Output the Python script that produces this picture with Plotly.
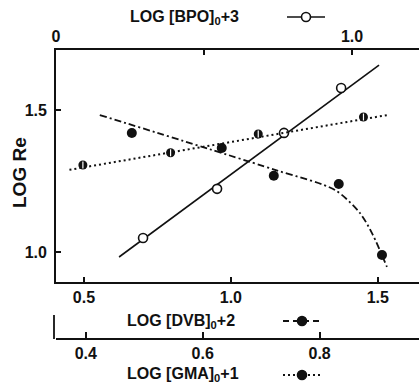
import plotly.graph_objects as go

# ---- data ----
# BPO series (top axis: LOG [BPO]0 + 3)
bpo_x = [0.294, 0.544, 0.770, 0.963]
bpo_y = [1.049, 1.222, 1.419, 1.577]
bpo_fit_x = [0.213, 1.091]
bpo_fit_y = [0.982, 1.658]

# DVB series (bottom axis: LOG [DVB]0 + 2)
dvb_x = [0.663, 0.969, 1.146, 1.367, 1.514]
dvb_y = [1.419, 1.366, 1.268, 1.239, 0.989]
dvb_curve_x = [0.554, 1.15, 1.354, 1.439, 1.483, 1.531]
dvb_curve_y = [1.482, 1.289, 1.218, 1.137, 1.060, 0.947]

# GMA series (lower axis: LOG [GMA]0 + 1)
gma_x = [0.395, 0.545, 0.695, 0.875]
gma_y = [1.306, 1.349, 1.415, 1.475]
gma_fit_x = [0.372, 0.916]
gma_fit_y = [1.289, 1.482]

y_ticks = [1.0, 1.5]
dvb_ticks = [0.5, 1.0, 1.5]
bpo_ticks = [0, 0.5, 1.0]
bpo_ticktext = ["0", "", "1.0"]
gma_ticks = [0.4, 0.6, 0.8]

FONT = "Liberation Sans"
BLACK = "#111111"
W, H = 419, 388
L, R, T, B = 56, 0, 50, 49

DASHDOT = "7px,3px,2px,3px"
DOT = "2px,3px"

fig = go.Figure()

# BPO
fig.add_trace(go.Scatter(x=bpo_fit_x, y=bpo_fit_y, xaxis="x2", yaxis="y", mode="lines",
                         line=dict(color=BLACK, width=1.6), showlegend=False))
fig.add_trace(go.Scatter(x=bpo_x, y=bpo_y, xaxis="x2", yaxis="y", mode="markers",
                         marker=dict(symbol="circle", size=9, color="white",
                                     line=dict(color=BLACK, width=1.6)), showlegend=False))
# DVB
fig.add_trace(go.Scatter(x=dvb_curve_x, y=dvb_curve_y, xaxis="x", yaxis="y", mode="lines",
                         line=dict(color=BLACK, width=1.8, dash=DASHDOT, shape="spline", smoothing=0.8),
                         showlegend=False))
fig.add_trace(go.Scatter(x=dvb_x, y=dvb_y, xaxis="x", yaxis="y", mode="markers",
                         marker=dict(symbol="circle", size=10, color=BLACK), showlegend=False))
# GMA
fig.add_trace(go.Scatter(x=gma_fit_x, y=gma_fit_y, xaxis="x3", yaxis="y", mode="lines",
                         line=dict(color=BLACK, width=2, dash=DOT), showlegend=False))
fig.add_trace(go.Scatter(x=gma_x, y=gma_y, xaxis="x3", yaxis="y", mode="markers",
                         marker=dict(symbol="circle", size=9, color=BLACK), showlegend=False))
fig.add_trace(go.Scatter(x=gma_x, y=gma_y, xaxis="x3", yaxis="y", mode="markers",
                         marker=dict(symbol="line-ns", size=5, color="white",
                                     line=dict(color="white", width=1.2)), showlegend=False))

pw = W - L - R
ph = H - T - B
def px(xp):
    return (xp - L) / pw
def py(yp):
    return (H - B - yp) / ph

tickfont = dict(family=FONT, size=16, color=BLACK, weight="bold")
main_bottom = py(282)

axis_common = dict(showgrid=False, zeroline=False, showline=True, linecolor=BLACK, linewidth=1.8,
                   tickcolor=BLACK, tickwidth=1.8, tickfont=tickfont)

fig.update_layout(
    width=W, height=H,
    margin=dict(l=L, r=R, t=T, b=B, pad=0, autoexpand=False),
    paper_bgcolor="white", plot_bgcolor="white",
    xaxis=dict(domain=[0, 1], range=[0.405, 1.64], anchor="y", tickvals=dvb_ticks,
               ticktext=["0.5", "1.0", "1.5"], ticks="inside", ticklen=5, **axis_common),
    xaxis2=dict(domain=[0, 1], range=[0, 1.226], anchor="y", overlaying="x", side="top",
                tickvals=bpo_ticks, ticktext=bpo_ticktext, ticks="inside", ticklen=5, **axis_common),
    xaxis3=dict(domain=[0, 1], range=[0.349, 0.97], anchor="free", position=0, overlaying="x",
                side="bottom", tickvals=gma_ticks, ticktext=["0.4", "0.6", "0.8"],
                ticks="inside", ticklen=6, **axis_common),
    yaxis=dict(domain=[main_bottom, 1], range=[0.894, 1.711], tickvals=y_ticks,
               ticktext=["1.0", "1.5"], ticks="inside", ticklen=5, ticklabelstandoff=4,
               **axis_common),
    showlegend=False,
)

ann_font = dict(family=FONT, size=16, color=BLACK, weight="bold")
fig.add_annotation(x=px(128), y=py(17), xref="paper", yref="paper", xanchor="left", yanchor="middle",
                   text="LOG [BPO]<sub>0</sub>+3", showarrow=False, font=ann_font)
fig.add_annotation(x=px(125), y=py(321), xref="paper", yref="paper", xanchor="left", yanchor="middle",
                   text="LOG [DVB]<sub>0</sub>+2", showarrow=False, font=ann_font)
fig.add_annotation(x=px(125), y=py(374), xref="paper", yref="paper", xanchor="left", yanchor="middle",
                   text="LOG [GMA]<sub>0</sub>+1", showarrow=False, font=ann_font)
fig.add_annotation(x=px(19), y=py(173), xref="paper", yref="paper", xanchor="center", yanchor="middle",
                   text="LOG Re", textangle=-90, showarrow=False,
                   font=dict(family=FONT, size=19, color=BLACK, weight="bold"))

# legend keys (drawn as layout shapes in paper coordinates)
def key(xc, yc, dash, width, fill, size):
    fig.add_shape(type="line", xref="paper", yref="paper",
                  x0=px(xc - 19), x1=px(xc + 19), y0=py(yc), y1=py(yc),
                  line=dict(color=BLACK, width=width, dash=dash))
    r = size / 2
    fig.add_shape(type="circle", xref="paper", yref="paper",
                  x0=px(xc - r), x1=px(xc + r), y0=py(yc + r), y1=py(yc - r),
                  line=dict(color=BLACK, width=1.6), fillcolor=fill, layer="above")

key(306, 17, "solid", 1.6, "white", 9)
key(302, 321, "6px,4px", 1.8, BLACK, 9)
key(302, 375, DOT, 2, BLACK, 9)

# left stub of the GMA axis
fig.add_shape(type="line", xref="paper", yref="paper", x0=px(54), x1=px(54), y0=0, y1=py(315),
              line=dict(color=BLACK, width=1.8))

fig.write_html("out.html", config={"displayModeBar": False},
               post_script="document.body.style.margin='0';")
